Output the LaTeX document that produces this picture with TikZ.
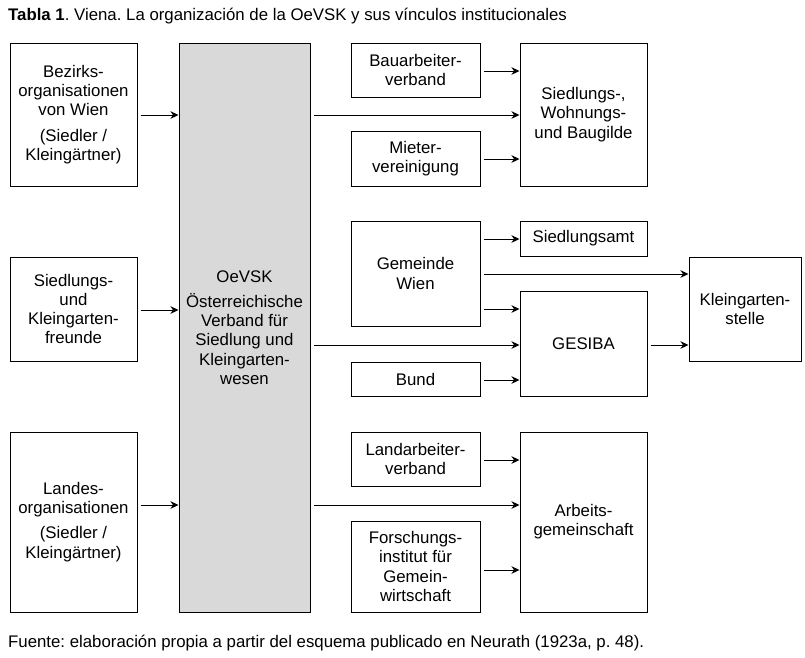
\documentclass[tikz,border=0pt]{standalone}
\usepackage{fontspec}
\setmainfont{Liberation Sans}
\usetikzlibrary{arrows.meta}
\frenchspacing
\begin{document}
\begin{tikzpicture}[x=1pt,y=1pt,
  box/.style={draw=black, line width=1pt, fill=white, align=center, inner sep=2pt,
    font=\fontsize{16.8}{19.2}\selectfont},
  arr/.style={-{Stealth[length=8pt,width=7.5pt,inset=2.5pt]}, line width=1pt, shorten <=3pt},
  lbl/.style={anchor=base west, inner sep=0pt, font=\fontsize{16.8}{19}\selectfont}]
\useasboundingbox (0,0) rectangle (805,-657);
\node[lbl] (title) at (8,-20) {\textbf{Tabla 1}. Viena. La organización de la OeVSK y sus vínculos institucionales};
\node[lbl] (foot) at (8,-647) {Fuente: elaboración propia a partir del esquema publicado en Neurath (1923a, p. 48).};

\node[box, minimum width=127pt, minimum height=143pt] (bez) at (73.5,-114.5) {Bezirks-\\organisationen\\von Wien\\[6pt](Siedler /\\Kleingärtner)};
\node[box, minimum width=127pt, minimum height=104pt] (sk) at (73.5,-309) {Siedlungs-\\und\\Kleingarten-\\freunde};
\node[box, minimum width=127pt, minimum height=180pt] (land) at (73.5,-522) {Landes-\\organisationen\\[6pt](Siedler /\\Kleingärtner)};
\node[box, fill={rgb,255:red,217;green,217;blue,217}, minimum width=131pt, minimum height=569pt] (oev) at (244.5,-327.5) {OeVSK\\[6pt]Österreichische\\Verband für\\Siedlung und\\Kleingarten-\\wesen};

\node[box, minimum width=129pt, minimum height=54pt] (bau) at (415.5,-70) {Bauarbeiter-\\verband};
\node[box, minimum width=129pt, minimum height=55pt] (miet) at (415.5,-158.5) {Mieter-\\vereinigung};
\node[box, minimum width=129pt, minimum height=105pt] (gem) at (415.5,-273.5) {Gemeinde\\Wien};
\node[box, minimum width=129pt, minimum height=34pt] (bund) at (415.5,-379) {Bund};
\node[box, minimum width=129pt, minimum height=54pt] (larb) at (415.5,-459) {Landarbeiter-\\verband};
\node[box, minimum width=129pt, minimum height=91pt] (forsch) at (415.5,-566.5) {Forschungs-\\institut für\\Gemein-\\wirtschaft};

\node[box, minimum width=127pt, minimum height=143pt] (gilde) at (583.5,-114.5) {Siedlungs-,\\Wohnungs-\\und Baugilde};
\node[box, minimum width=127pt, minimum height=35pt] (samt) at (583.5,-238.5) {Siedlungsamt};
\node[box, minimum width=127pt, minimum height=105pt] (gesiba) at (583.5,-343.5) {GESIBA};
\node[box, minimum width=127pt, minimum height=180pt] (arbg) at (583.5,-522) {Arbeits-\\gemeinschaft};
\node[box, minimum width=112pt, minimum height=104pt] (kgs) at (745,-309) {Kleingarten-\\stelle};

\draw[arr] (bez.east |- 0,-115) -- (oev.west |- 0,-115);
\draw[arr] (sk.east |- 0,-310) -- (oev.west |- 0,-310);
\draw[arr] (land.east |- 0,-505) -- (oev.west |- 0,-505);

\draw[arr] (oev.east |- 0,-115) -- (gilde.west |- 0,-115);
\draw[arr] (bau.east |- 0,-71) -- (gilde.west |- 0,-71);
\draw[arr] (miet.east |- 0,-159) -- (gilde.west |- 0,-159);

\draw[arr] (gem.east |- 0,-239) -- (samt.west |- 0,-239);
\draw[arr] (gem.east |- 0,-274) -- (kgs.west |- 0,-274);
\draw[arr] (gem.east |- 0,-309) -- (gesiba.west |- 0,-309);
\draw[arr] (oev.east |- 0,-345) -- (gesiba.west |- 0,-345);
\draw[arr] (bund.east |- 0,-380) -- (gesiba.west |- 0,-380);
\draw[arr] (gesiba.east |- 0,-345) -- (kgs.west |- 0,-345);

\draw[arr] (larb.east |- 0,-460) -- (arbg.west |- 0,-460);
\draw[arr] (oev.east |- 0,-505) -- (arbg.west |- 0,-505);
\draw[arr] (forsch.east |- 0,-570) -- (arbg.west |- 0,-570);
\end{tikzpicture}
\end{document}
